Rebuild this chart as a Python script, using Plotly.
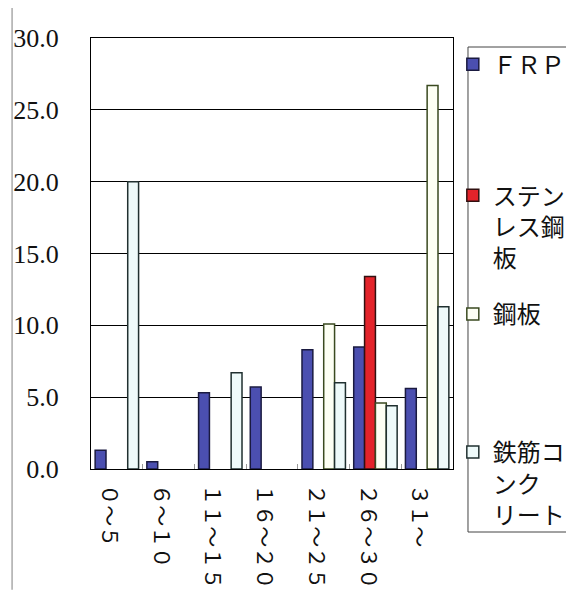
import plotly.graph_objects as go

categories = ["０～５", "６～１０", "１１～１５", "１６～２０", "２１～２５", "２６～３０", "３１～"]
frp = [1.3, 0.5, 5.3, 5.7, 8.3, 8.5, 5.6]
stainless = [None, None, None, None, None, 13.4, None]
steel = [None, None, None, None, 10.1, 4.6, 26.7]
rc = [20.0, None, 6.7, None, 6.0, 4.4, 11.3]

series_names = ["ＦＲＰ", "ステン<br>レス鋼<br>板", "鋼板", "鉄筋コ<br>ンク<br>リート"]
ytick_vals = [0, 5, 10, 15, 20, 25, 30]
ytick_text = ["0.0", "5.0", "10.0", "15.0", "20.0", "25.0", "30.0"]

fills = ["#4b4fb0", "#e3232a", "#fdfff4", "#eefafa"]
edges = ["#1a1a40", "#301010", "#3a4a20", "#203030"]
legend_ids = ["legend", "legend2", "legend3", "legend4"]
legend_tops = [0.9906, 0.6866, 0.4110, 0.0907]

fig = go.Figure()
for vals, name, fc, ec, lid in zip([frp, stainless, steel, rc], series_names, fills, edges, legend_ids):
    fig.add_trace(go.Bar(
        x=categories, y=vals, name=name,
        marker=dict(color=fc, line=dict(color=ec, width=1.5)),
        legend=lid,
    ))

legend_common = dict(
    x=0.9995, xanchor="left", yanchor="top",
    borderwidth=0, bgcolor="rgba(0,0,0,0)",
    font=dict(family="Noto Sans CJK JP", size=24, color="#111111"),
    valign="top", itemwidth=30,
)
layout_legends = {lid: dict(legend_common, y=yt) for lid, yt in zip(legend_ids, legend_tops)}

# page body adds an 8px offset, so the figure is 8px smaller than the window
fig.update_layout(
    width=566, height=587,
    margin=dict(l=83, r=121, t=30, b=126, autoexpand=False),
    paper_bgcolor="white", plot_bgcolor="white",
    barmode="group", bargap=0.16, bargroupgap=0,
    showlegend=True,
    font=dict(family="Noto Sans CJK JP", color="#111111"),
    **layout_legends,
)
fig.update_xaxes(
    showline=True, linecolor="black", linewidth=1.2, mirror=True,
    tickangle=90, tickfont=dict(family="Noto Sans CJK JP", size=21, color="#111111"),
    ticks="inside", tickson="boundaries", ticklen=5, tickcolor="#999999",
    ticklabelstandoff=10, ticklabelshift=-8,
    showgrid=False,
)
fig.update_yaxes(
    range=[0, 30], tickvals=ytick_vals, ticktext=ytick_text,
    showline=True, linecolor="black", linewidth=1.2, mirror=True,
    showgrid=True, gridcolor="black", gridwidth=1,
    zeroline=True, zerolinecolor="black", zerolinewidth=1.2,
    tickfont=dict(family="Liberation Serif", size=26, color="#111111"),
    ticklabelstandoff=26,
)
# legend frame
fig.add_shape(type="rect", xref="paper", yref="paper",
              x0=1.0414, x1=1.3287, y0=-0.1462, y1=0.9791,
              line=dict(color="#444444", width=1))
# outer chart-area edge
fig.add_shape(type="line", xref="paper", yref="paper",
              x0=-0.218, x1=-0.218, y0=-0.28, y1=1.09,
              line=dict(color="#aaaaaa", width=1.5))
fig.write_html("out.html")
